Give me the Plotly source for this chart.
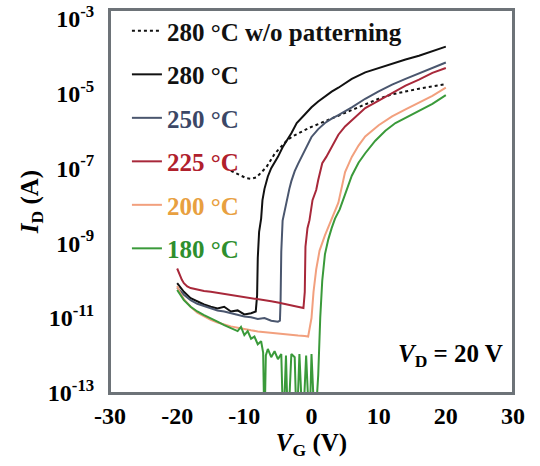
import plotly.graph_objects as go

# ---------------- data (V_G in V, I_D in A) ----------------
V_wo = [-12, -11.2, -10.5, -9.7, -9.0, -8.2, -7.5, -6.7, -5.5, -4.5, -3.7, -2.8, -1.8, -0.3, 1.6, 4, 6, 8, 10, 12, 14, 16, 18, 20]
I_wo = [8.5e-8, 7.4e-8, 6.3e-8, 5.4e-8, 5.2e-8, 5.7e-8, 7.6e-8, 1.07e-7, 2.4e-7, 3.8e-7, 5.4e-7, 7.1e-7, 8.9e-7,
        1.2e-6, 1.66e-6, 2.5e-6, 3.5e-6, 5.0e-6, 7.1e-6, 9.3e-6, 1.12e-5, 1.32e-5, 1.51e-5, 1.74e-5]

V_280 = [-20, -19, -18, -17, -16, -15, -14, -13, -12, -11, -10, -9, -8.3, -8.1, -8.0, -7.8, -7.5, -7.3, -7.0, -6.5,
         -6.0, -5.0, -4.3, -3.0, -2.2, -1.0, 0, 1, 2, 3, 4, 6, 8, 10, 12, 14, 16, 18, 20]
I_280 = [8.5e-11, 5.0e-11, 3.4e-11, 2.8e-11, 2.3e-11, 2.0e-11, 1.8e-11, 2.0e-11, 1.5e-11, 1.6e-11,
         1.25e-11, 1.35e-11, 1.5e-11, 4e-11, 4e-10, 2.0e-9, 4.5e-9, 1.4e-8, 2.8e-8, 6.0e-8,
         1.0e-7, 2.0e-7, 3.6e-7, 8.5e-7, 1.6e-6, 2.7e-6, 4.2e-6, 6.0e-6, 8.3e-6, 1.1e-5,
         1.4e-5, 2.4e-5, 3.6e-5, 4.7e-5, 6.2e-5, 7.9e-5, 1.0e-4, 1.3e-4, 1.75e-4]

V_250 = [-20, -19, -18, -17, -16, -15, -14, -13, -12, -11, -10, -9, -8, -7, -6, -5,
         -4.7, -4.6, -4.5, -4.3, -4.0, -3.6, -3.3, -3.0, -2.5, -2.0,
         -1, 0, 1, 2, 3, 4, 6, 8, 10, 12, 14, 16, 18, 20]
I_250 = [6.5e-11, 4.2e-11, 3.0e-11, 2.4e-11, 2.1e-11, 1.8e-11, 1.6e-11, 1.5e-11, 1.35e-11, 1.25e-11,
         1.1e-11, 1.05e-11, 9.5e-12, 1.0e-11, 8.5e-12, 8.0e-12,
         8.5e-12, 3e-11, 6e-10, 4e-9, 7.5e-9, 1.6e-8, 2.8e-8, 4.5e-8, 8.3e-8, 1.3e-7,
         3.0e-7, 6.8e-7, 1.1e-6, 1.6e-6, 2.1e-6, 2.6e-6, 4.2e-6, 7.1e-6, 1.12e-5, 1.7e-5,
         2.4e-5, 3.4e-5, 4.8e-5, 6.6e-5]

V_225 = [-20, -19.7, -19.3, -19, -18.5, -18, -17, -16, -15, -14, -13, -12, -11, -10, -9, -8, -7, -6, -5, -4,
         -3, -2, -1.2, -1.0, -0.9, -0.6, -0.3, 0.15, 0.7, 1.0, 1.6, 2.2, 3, 4, 5, 6, 8, 10, 12, 14, 16, 18, 20]
I_225 = [2.1e-10, 1.5e-10, 1.05e-10, 8.5e-11, 7.0e-11, 6.3e-11, 5.7e-11, 5.3e-11, 5.0e-11, 4.7e-11,
         4.4e-11, 4.2e-11, 4.0e-11, 3.7e-11, 3.5e-11, 3.2e-11, 3.0e-11, 2.8e-11, 2.6e-11, 2.4e-11,
         2.2e-11, 2.0e-11, 1.85e-11, 5e-11, 8e-10, 2.5e-9, 4.1e-9, 1.4e-8, 2.6e-8, 4.8e-8,
         1.35e-7, 2.0e-7, 3.6e-7, 7.8e-7, 1.3e-6, 1.9e-6, 4.0e-6, 6.3e-6, 1.0e-5, 1.6e-5,
         2.3e-5, 3.5e-5, 4.7e-5]

V_200 = [-20, -19.5, -19, -18, -17, -16, -15, -14, -13, -12, -11, -10, -9, -8, -7, -6, -5, -4, -3, -2,
         -1, -0.5, 0, 0.3, 0.7, 1.2, 2, 3, 4, 5, 6, 7, 8, 10, 12, 14, 16, 18, 20]
I_200 = [7.1e-11, 4.5e-11, 3.2e-11, 2.0e-11, 1.4e-11, 1.12e-11, 8.9e-12, 7.6e-12, 6.6e-12, 6.0e-12,
         5.5e-12, 5.0e-12, 4.7e-12, 4.4e-12, 4.2e-12, 4.0e-12, 3.8e-12, 3.6e-12, 3.5e-12, 3.4e-12,
         3.3e-12, 3.2e-12, 1.0e-11, 5.0e-11, 2.0e-10, 6.3e-10, 1.6e-9, 4.5e-9, 1.2e-8, 7.9e-8,
         2.0e-7, 4.0e-7, 7.0e-7, 1.4e-6, 2.4e-6, 3.7e-6, 5.5e-6, 8.5e-6, 1.4e-5]

V_180 = [-20, -19.5, -19, -18, -17, -16, -15, -14, -13, -12, -11, -10.5, -10, -9.5, -9, -8.5, -8, -7.5, -7.2, -7.0,
         -6.8, -6.5, -6, -5.5, -5, -4.5, -4.2, -3.8, -3.5, -3.0, -2.5, -2.2, -1.8, -1.3, -0.8, -0.3, 0, 0.5, 1.0, 1.3,
         1.6, 2.0, 2.5, 3.0, 3.5, 4.2, 5, 5.5, 6, 7, 8, 9.5, 11, 12.5, 14, 16, 18, 20]
I_180 = [5.6e-11, 4.0e-11, 3.0e-11, 2.0e-11, 1.5e-11, 1.2e-11, 1.0e-11, 8e-12, 6.5e-12, 5.5e-12,
         4.5e-12, 5.8e-12, 3.5e-12, 4.5e-12, 2.8e-12, 3.2e-12, 2.0e-12, 2.4e-12, 1.2e-12, 1e-14,
         1.0e-12, 1.5e-12, 9e-13, 1.3e-12, 8e-13, 1.1e-12, 1e-14, 1.0e-12, 1e-14, 1.1e-12,
         9e-13, 1e-14, 1.1e-12, 1e-14, 1.0e-12, 1e-14, 1.1e-12, 1e-14, 3e-13, 1e-11,
         1e-10, 5e-10, 1.26e-9, 2.5e-9, 4.5e-9, 7.9e-9, 2.0e-8, 3.5e-8, 6.3e-8, 1.4e-7,
         2.5e-7, 5.4e-7, 1.0e-6, 1.6e-6, 2.2e-6, 3.4e-6, 5.2e-6, 8.9e-6]

x_ticks = [-30, -20, -10, 0, 10, 20, 30]
x_ticktext = ["-30", "-20", "-10", "0", "10", "20", "30"]
y_ticks = [1e-13, 1e-11, 1e-9, 1e-7, 1e-5, 1e-3]
y_ticktext = ["10<sup>-13</sup>", "10<sup>-11</sup>", "10<sup>-9</sup>", "10<sup>-7</sup>",
              "10<sup>-5</sup>", "10<sup>-3</sup>"]

series = [
    ("280 °C w/o patterning", V_wo, I_wo, "#111111", "dot", "#111111"),
    ("280 °C", V_280, I_280, "#111111", "solid", "#111111"),
    ("250 °C", V_250, I_250, "#4a566e", "solid", "#3b4766"),
    ("225 °C", V_225, I_225, "#a8283a", "solid", "#b0202c"),
    ("200 °C", V_200, I_200, "#f2a07e", "solid", "#e8a040"),
    ("180 °C", V_180, I_180, "#3a9a3a", "solid", "#2e8f2e"),
]

FONT = "Liberation Serif"
FRAME = "#6d7378"

fig = go.Figure()
for i, (name, v, cur, col, dash, tcol) in enumerate(series):
    fig.add_trace(go.Scatter(
        x=v, y=cur, mode="lines",
        name=f"<span style='color:{tcol}'>{name}</span>",
        legendgroup=f"g{i}",
        line=dict(color=col, width=2, dash=dash),
    ))

fig.update_layout(
    width=540, height=466,
    margin=dict(l=110, r=27, t=10, b=73, autoexpand=False),
    paper_bgcolor="white", plot_bgcolor="white",
    font=dict(family=FONT, size=24, color="black", weight="bold"),
    legend=dict(x=0.042, y=1.005, xanchor="left", yanchor="top", maxheight=440,
                bgcolor="rgba(0,0,0,0)", font=dict(size=25, family=FONT, weight="bold"),
                traceorder="grouped", tracegroupgap=8),
    shapes=[dict(type="rect", xref="paper", yref="paper", x0=0, x1=1, y0=0, y1=1,
                 line=dict(color=FRAME, width=2), fillcolor="rgba(0,0,0,0)", layer="above")],
)
fig.update_xaxes(range=[-30, 30], tickvals=x_ticks, ticktext=x_ticktext,
                 showline=True, mirror=True, linecolor=FRAME, linewidth=2,
                 ticks="", showgrid=False, zeroline=False, automargin=False,
                 ticklabelstandoff=0, ticklabeloverflow="allow",
                 title=dict(text="<i>V</i><sub>G</sub> (V)", font=dict(size=25), standoff=0))
fig.update_yaxes(type="log", range=[-13, -2.78], tickvals=y_ticks, ticktext=y_ticktext,
                 showline=True, mirror=True, linecolor=FRAME, linewidth=2,
                 ticks="", showgrid=False, zeroline=False, automargin=False,
                 ticklabelstandoff=9, ticklabeloverflow="allow",
                 title=dict(text="<i>I</i><sub>D</sub> (A)", font=dict(size=25), standoff=2))

fig.add_annotation(text="<i>V</i><sub>D</sub> = 20 V", xref="paper", yref="paper",
                   x=0.846, y=0.099, xanchor="center", yanchor="middle",
                   showarrow=False, font=dict(size=25))

# remove the browser's default 8 px body margin so the 540x466 figure fills the window
fig.write_html("out.html", config={"displayModeBar": False},
               post_script="document.body.style.margin='0px';")
